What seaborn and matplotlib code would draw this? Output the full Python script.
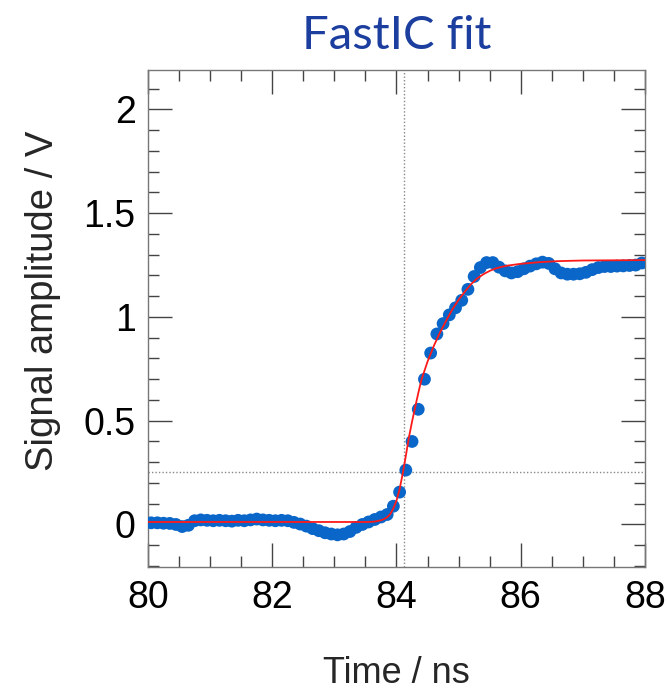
import numpy as np
import pandas as pd
import matplotlib
matplotlib.use("Agg")
import matplotlib.pyplot as plt
from matplotlib.ticker import MultipleLocator
import seaborn as sns

# ---- data -------------------------------------------------------------
time_ns = np.round(np.arange(80.05, 88.0, 0.1), 2)
amplitude_v = [
    0.008, 0.008, 0.006, 0.005, 0.000, -0.010, -0.004, 0.018, 0.022, 0.020,
    0.018, 0.020, 0.018, 0.016, 0.020, 0.018, 0.022, 0.026, 0.022, 0.020,
    0.018, 0.020, 0.018, 0.010, 0.002, -0.008, -0.020, -0.030, -0.040, -0.046,
    -0.050, -0.046, -0.034, -0.014, 0.000, 0.012, 0.024, 0.036, 0.048, 0.088,
    0.156, 0.262, 0.400, 0.555, 0.700, 0.826, 0.918, 0.968, 1.010, 1.044,
    1.080, 1.133, 1.195, 1.238, 1.262, 1.262, 1.240, 1.222, 1.212, 1.218,
    1.232, 1.245, 1.256, 1.264, 1.258, 1.232, 1.212, 1.206, 1.206, 1.208,
    1.215, 1.228, 1.238, 1.243, 1.243, 1.245, 1.246, 1.248, 1.250, 1.260,
]

fit_t = [80.0, 83.55, 83.65, 83.75, 83.8, 83.85, 83.9, 83.95, 84.0, 84.05,
         84.1, 84.15, 84.2, 84.25, 84.3, 84.35, 84.4, 84.5, 84.6, 84.7,
         84.8, 84.9, 85.0, 85.1, 85.2, 85.3, 85.4, 85.5, 85.6, 85.7,
         85.8, 86.0, 86.3, 86.6, 87.0, 88.0]
fit_v = [0.012, 0.012, 0.014, 0.020, 0.026, 0.035, 0.050, 0.078, 0.115, 0.170,
         0.245, 0.330, 0.420, 0.495, 0.565, 0.632, 0.696, 0.785, 0.860, 0.925,
         0.982, 1.037, 1.083, 1.122, 1.158, 1.186, 1.206, 1.222, 1.234, 1.242,
         1.248, 1.256, 1.264, 1.269, 1.272, 1.274]

threshold_t = 84.125
threshold_v = 0.255

x_ticks = [80, 82, 84, 86, 88]
y_ticks = [0, 0.5, 1, 1.5, 2]
y_tick_labels = ["0", "0.5", "1", "1.5", "2"]

title_text = "FastIC fit"
x_label = "Time / ns"
y_label = "Signal amplitude / V"

# ---- plot -------------------------------------------------------------
sns.set_theme(style="ticks")
plt.rcParams["font.family"] = ["Liberation Sans", "DejaVu Sans"]

fig = plt.figure(figsize=(6.67, 6.93), dpi=100)
ax = fig.add_axes([0.2219, 0.1818, 0.7451, 0.7172])

df = pd.DataFrame({"t": time_ns, "v": amplitude_v})
fit_df = pd.DataFrame({"t": fit_t, "v": fit_v})

sns.scatterplot(data=df, x="t", y="v", ax=ax, s=85, color="#0a66c8",
                edgecolor="none", linewidth=0, zorder=3)
sns.lineplot(data=fit_df, x="t", y="v", ax=ax, color="#ff1a1a", lw=1.3,
             zorder=4, estimator=None, sort=False)

ax.axvline(threshold_t, color="#888888", lw=1.0, ls=(0, (1, 1.5)), zorder=2)
ax.axhline(threshold_v, color="#888888", lw=1.0, ls=(0, (1, 1.5)), zorder=2)

ax.set_xlim(80, 88)
ax.set_ylim(-0.205, 2.19)
ax.set_xticks(x_ticks)
ax.set_xticklabels([str(v) for v in x_ticks])
ax.set_yticks(y_ticks)
ax.set_yticklabels(y_tick_labels)
ax.xaxis.set_minor_locator(MultipleLocator(0.5))
ax.yaxis.set_minor_locator(MultipleLocator(0.1))

ax.tick_params(which="both", direction="in", top=True, right=True,
               color="#444444", width=1.0)
ax.tick_params(which="major", length=17, labelsize=27, pad=9,
               labelcolor="black")
ax.tick_params(which="minor", length=8)
for sp in ax.spines.values():
    sp.set_color("#777777")
    sp.set_linewidth(1.0)

ax.set_xlabel(x_label, fontsize=26, labelpad=29)
ax.set_ylabel(y_label, fontsize=27.5)
ax.yaxis.set_label_coords(-0.175, 0.535)
ax.set_title(title_text, fontsize=34, color="#1c3f9f", pad=15,
             fontfamily=["Lato", "DejaVu Sans"])

fig.savefig("out.png", dpi=100)
